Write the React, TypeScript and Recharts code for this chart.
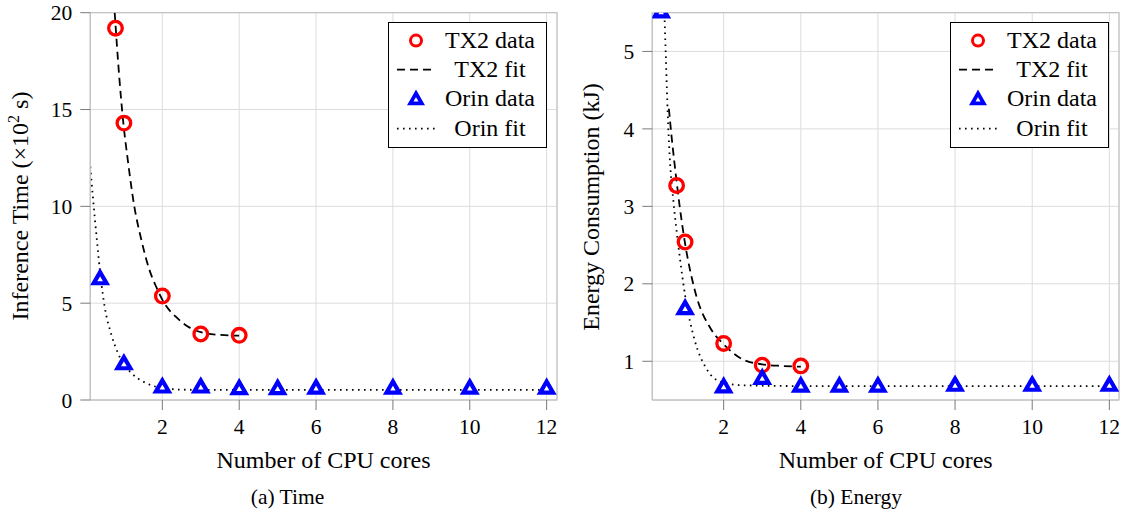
import React from 'react';
import {
  ComposedChart, Line, Scatter, XAxis, YAxis, CartesianGrid, ReferenceArea, Legend
} from 'recharts';

// x ticks and y ticks
const coreTicks = [2, 4, 6, 8, 10, 12];
const timeTicks = [0, 5, 10, 15, 20];
const energyTicks = [1, 2, 3, 4, 5];

const legendLabels = ['TX2 data', 'TX2 fit', 'Orin data', 'Orin fit'];

// measured points
const tx2Cores = [0.78, 1, 2, 3, 4];
const orinCores = [0.38, 1, 2, 3, 4, 5, 6, 8, 10, 12];

const tx2Time = [19.2, 14.3, 5.37, 3.41, 3.34];
const orinTime = [6.22, 1.83, 0.63, 0.63, 0.55, 0.55, 0.57, 0.57, 0.57, 0.57];

const tx2Energy = [3.27, 2.54, 1.23, 0.95, 0.94];
const orinEnergy = [5.5, 1.67, 0.66, 0.77, 0.67, 0.67, 0.67, 0.68, 0.68, 0.68];

// fitted curves
const tx2TimeFitX = [0.76, 0.87, 0.98, 1.1, 1.27, 1.45, 1.65, 1.85, 2.05, 2.35, 2.7, 3, 3.5, 4];
const tx2TimeFitY = [20, 16.9, 14.4, 12.4, 10.0, 8.3, 6.8, 5.8, 5.0, 4.3, 3.75, 3.5, 3.36, 3.32];
const orinTimeFitX = [0.125, 0.2, 0.3, 0.38, 0.5, 0.67, 0.85, 1, 1.2, 1.55, 2, 2.6, 4, 6, 8, 10, 12];
const orinTimeFitY = [12.05, 10.3, 8.2, 6.6, 4.8, 3.4, 2.4, 1.85, 1.38, 0.9, 0.62, 0.53, 0.52, 0.52, 0.52, 0.52, 0.52];

const tx2EnergyFitX = [0.58, 0.65, 0.72, 0.79, 0.86, 1, 1.25, 1.69, 2, 2.47, 3, 3.5, 4];
const tx2EnergyFitY = [4.26, 3.9, 3.58, 3.28, 3.0, 2.52, 1.92, 1.4, 1.22, 1.03, 0.96, 0.94, 0.93];
const orinEnergyFitX = [0.47, 0.5, 0.55, 0.6, 0.7, 0.8, 0.9, 1, 1.25, 1.56, 1.95, 2.5, 4, 6, 8, 10, 12];
const orinEnergyFitY = [5.4, 4.95, 4.2, 3.65, 3.05, 2.6, 2.2, 1.85, 1.27, 0.9, 0.73, 0.69, 0.68, 0.68, 0.68, 0.68, 0.68];

const FONT = '"Liberation Serif", "Times New Roman", serif';
const RED = '#ff0000';
const BLUE = '#0000ff';
const DASH = '8 5';
const DOTS = '1.6 4.4';

const toPoints = (xs: number[], ys: number[]) => xs.map((x, i) => ({ x, y: ys[i] }));

const Ring = (props: any) => (
  <circle cx={props.cx} cy={props.cy} r={6.8} fill="none" stroke={RED} strokeWidth={3.3} />
);

const tri = (cx: number, cy: number, r: number) =>
  `${cx},${cy - r} ${cx - 0.866 * r},${cy + 0.5 * r} ${cx + 0.866 * r},${cy + 0.5 * r}`;

const Tri = (props: any) => (
  <polygon points={tri(props.cx, props.cy, 7.4)} fill="#fff" stroke={BLUE} strokeWidth={4.2} strokeLinejoin="miter" />
);

const LegendBox = () => (
  <div style={{
    boxSizing: 'border-box', width: 159, height: 126, border: '1px solid #000', background: '#fff',
    paddingTop: 3, fontFamily: FONT, fontSize: 24, color: '#000',
  }}>
    {legendLabels.map((label, i) => (
      <div key={label} style={{ display: 'flex', alignItems: 'center', height: 29.3 }}>
        <svg width={55} height={29.3} style={{ flex: 'none' }}>
          {i === 0 && <circle cx={27} cy={14.6} r={5.5} fill="none" stroke={RED} strokeWidth={3} />}
          {i === 1 && <line x1={8} x2={45} y1={14.6} y2={14.6} stroke="#000" strokeWidth={1.8} strokeDasharray={DASH} />}
          {i === 2 && <polygon points={tri(27, 16, 6.6)} fill="#fff" stroke={BLUE} strokeWidth={3.8} />}
          {i === 3 && <line x1={8} x2={50} y1={14.6} y2={14.6} stroke="#000" strokeWidth={1.8} strokeDasharray={DOTS} />}
        </svg>
        <div style={{ width: 92, textAlign: 'center', lineHeight: '29px', whiteSpace: 'nowrap' }}>{label}</div>
      </div>
    ))}
  </div>
);

interface PanelProps {
  left: number;
  width: number;
  margin: { top: number; right: number; bottom: number; left: number };
  xDomain: [number, number];
  yDomain: [number, number];
  yTicks: number[];
  tx2: { x: number; y: number }[];
  tx2Fit: { x: number; y: number }[];
  orin: { x: number; y: number }[];
  orinFit: { x: number; y: number }[];
  legendLeft: number;
}

const Panel: React.FC<PanelProps> = ({
  left, width, margin, xDomain, yDomain, yTicks, tx2, tx2Fit, orin, orinFit, legendLeft,
}) => {
  const tickStyle = { fontFamily: FONT, fontSize: 21.5, fill: '#000' };
  return (
    <div style={{ position: 'absolute', left, top: 0 }}>
      <ComposedChart width={width} height={510} margin={margin}>
        <CartesianGrid stroke="#dcdcdc" strokeWidth={1} />
        <ReferenceArea x1={xDomain[0]} x2={xDomain[1]} y1={yDomain[0]} y2={yDomain[1]}
          fill="none" stroke="#c4c4c4" strokeWidth={1.2} />
        <XAxis type="number" dataKey="x" domain={xDomain} allowDataOverflow ticks={coreTicks} interval={0}
          tick={tickStyle} tickSize={10} tickMargin={9} height={30}
          axisLine={{ stroke: '#c4c4c4' }} tickLine={{ stroke: '#7a7a7a' }} />
        <YAxis type="number" dataKey="y" domain={yDomain} allowDataOverflow ticks={yTicks} interval={0}
          tick={tickStyle} tickSize={10} tickMargin={8} width={60}
          axisLine={{ stroke: '#c4c4c4' }} tickLine={{ stroke: '#7a7a7a' }} />
        <Legend layout="vertical" align="center" verticalAlign="middle"
          wrapperStyle={{ left: legendLeft, top: 21.7, width: 159, height: 126 }}
          content={() => <LegendBox />} />
        <Scatter data={tx2} shape={Ring} isAnimationActive={false} />
        <Line data={tx2Fit} dataKey="y" type="monotone" stroke="#000" strokeWidth={1.8}
          strokeDasharray={DASH} dot={false} activeDot={false} isAnimationActive={false} />
        <Scatter data={orin} shape={Tri} isAnimationActive={false} />
        <Line data={orinFit} dataKey="y" type="monotone" stroke="#000" strokeWidth={1.8}
          strokeDasharray={DOTS} dot={false} activeDot={false} isAnimationActive={false} />
      </ComposedChart>
    </div>
  );
};

export default function App() {
  return (
    <div style={{ position: 'absolute', left: 0, top: 0, width: 1127, height: 510, background: '#fff' }}>
      <Panel
        left={0} width={570}
        margin={{ top: 12.7, right: 13, bottom: 80, left: 30.3 }}
        xDomain={[0.125, 12.27]} yDomain={[0, 20]} yTicks={timeTicks}
        tx2={toPoints(tx2Cores, tx2Time)} tx2Fit={toPoints(tx2TimeFitX, tx2TimeFitY)}
        orin={toPoints(orinCores, orinTime)} orinFit={toPoints(orinTimeFitX, orinTimeFitY)}
        legendLeft={388}
      />
      <Panel
        left={570} width={557}
        margin={{ top: 12.7, right: 8, bottom: 80, left: 22.3 }}
        xDomain={[0.15, 12.25]} yDomain={[0.5, 5.5]} yTicks={energyTicks}
        tx2={toPoints(tx2Cores, tx2Energy)} tx2Fit={toPoints(tx2EnergyFitX, tx2EnergyFitY)}
        orin={toPoints(orinCores, orinEnergy)} orinFit={toPoints(orinEnergyFitX, orinEnergyFitY)}
        legendLeft={380}
      />
      <svg width={1127} height={510} style={{ position: 'absolute', left: 0, top: 0, pointerEvents: 'none' }}
        fontFamily={FONT} fill="#000">
        <text transform="translate(28,206) rotate(-90)" textAnchor="middle" fontSize={24}>
          <tspan>Inference Time (×10</tspan>
          <tspan dy={-9} fontSize={16}>2</tspan>
          <tspan dy={9}> s)</tspan>
        </text>
        <text transform="translate(599,207) rotate(-90)" textAnchor="middle" fontSize={24}>
          Energy Consumption (kJ)
        </text>
        <text x={323.5} y={468} textAnchor="middle" fontSize={24}>Number of CPU cores</text>
        <text x={885.7} y={468} textAnchor="middle" fontSize={24}>Number of CPU cores</text>
        <text x={287.5} y={504} textAnchor="middle" fontSize={21.5}>(a) Time</text>
        <text x={856} y={504} textAnchor="middle" fontSize={21.5}>(b) Energy</text>
      </svg>
    </div>
  );
}
